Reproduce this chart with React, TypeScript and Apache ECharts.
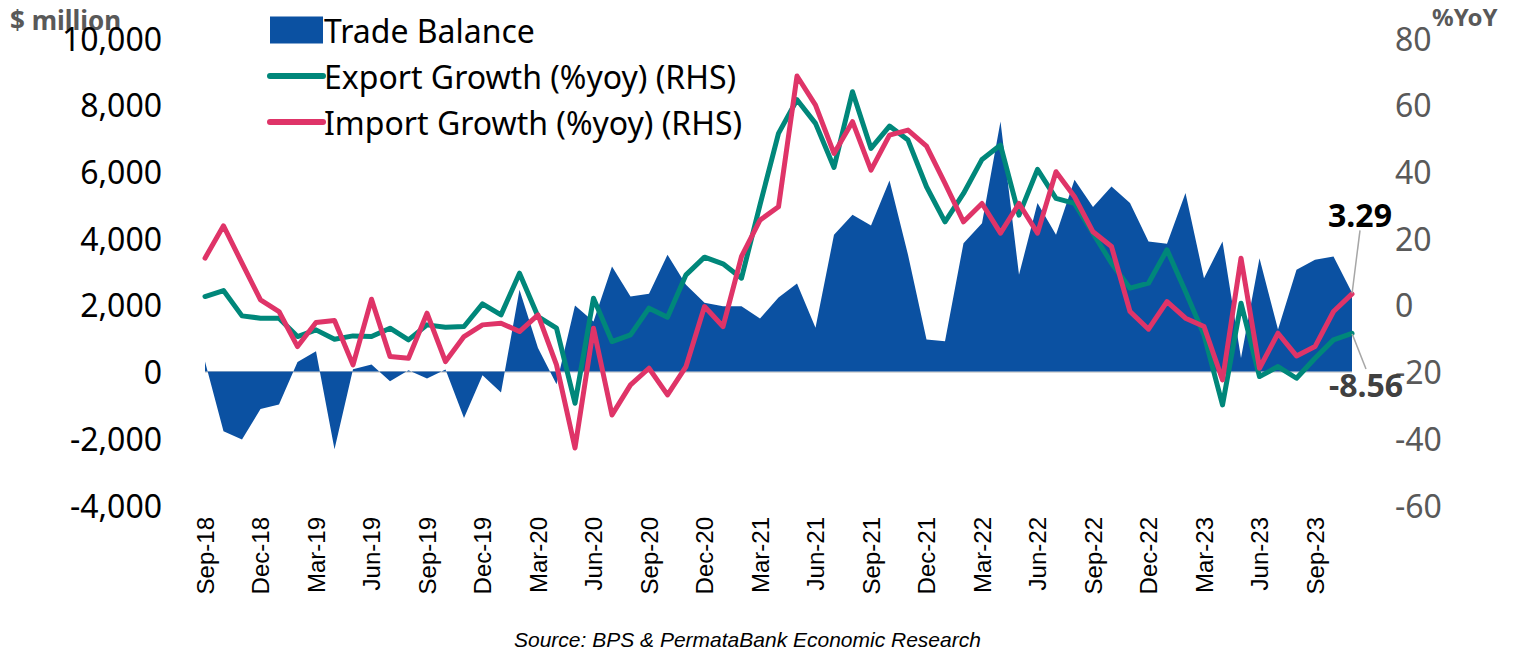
import React, { useEffect, useRef } from "react";
import * as echarts from "echarts";

const categories: string[] = [
  "Sep-18", "Oct-18", "Nov-18", "Dec-18",
  "Jan-19", "Feb-19", "Mar-19", "Apr-19", "May-19", "Jun-19", "Jul-19", "Aug-19", "Sep-19", "Oct-19", "Nov-19", "Dec-19",
  "Jan-20", "Feb-20", "Mar-20", "Apr-20", "May-20", "Jun-20", "Jul-20", "Aug-20", "Sep-20", "Oct-20", "Nov-20", "Dec-20",
  "Jan-21", "Feb-21", "Mar-21", "Apr-21", "May-21", "Jun-21", "Jul-21", "Aug-21", "Sep-21", "Oct-21", "Nov-21", "Dec-21",
  "Jan-22", "Feb-22", "Mar-22", "Apr-22", "May-22", "Jun-22", "Jul-22", "Aug-22", "Sep-22", "Oct-22", "Nov-22", "Dec-22",
  "Jan-23", "Feb-23", "Mar-23", "Apr-23", "May-23", "Jun-23", "Jul-23", "Aug-23", "Sep-23", "Oct-23", "Nov-23",
];

// Trade balance, $ million (LHS)
const tradeBalance: number[] = [
  300, -1790, -2040, -1120,
  -990, 290, 610, -2330, 70, 210, -290, 40, -210, 60, -1390, -110,
  -630, 2450, 710, -380, 1980, 1500, 3150, 2250, 2330, 3500, 2600, 2060,
  1960, 1960, 1590, 2220, 2640, 1310, 4100, 4700, 4380, 5730, 3500, 960,
  910, 3850, 4450, 7500, 2900, 5050, 4100, 5750, 4930, 5550, 5050, 3900,
  3830, 5350, 2800, 3900, 410, 3400, 1260, 3050, 3350, 3450, 2360,
];

// Export growth, %yoy (RHS)
const exportGrowth: number[] = [
  2.5, 4.3, -3.3, -4.0,
  -4.0, -9.5, -7.5, -10.3, -9.3, -9.5, -7.0, -10.5, -6.0, -6.7, -6.5, 0.3,
  -3.0, 9.5, -3.5, -7.0, -29.5, 2.0, -11.0, -9.0, -1.0, -3.7, 9.0, 14.3,
  12.3, 8.0, 30.0, 51.4, 61.5, 54.4, 41.2, 63.9, 46.9, 53.6, 49.4, 35.4,
  24.9, 33.4, 43.6, 47.9, 26.9, 40.6, 31.9, 30.4, 21.5, 12.5, 5.0, 6.5,
  16.5, 4.0, -9.0, -30.0, 0.5, -21.5, -18.5, -22.0, -16.0, -10.5, -8.56,
];

// Import growth, %yoy (RHS)
const importGrowth: number[] = [
  14.0, 23.7, 12.5, 1.5,
  -2.0, -12.5, -5.3, -4.7, -18.0, 1.7, -15.5, -16.0, -2.5, -17.0, -9.5, -6.0,
  -5.5, -8.0, -3.0, -18.0, -42.9, -7.0, -33.0, -24.0, -19.0, -27.0, -18.5, -0.5,
  -6.5, 14.5, 25.4, 29.4, 68.6, 59.9, 45.4, 54.9, 40.4, 50.9, 52.4, 47.6,
  36.4, 24.9, 30.4, 21.5, 30.4, 21.5, 39.9, 32.4, 21.9, 17.5, -2.0, -7.3,
  1.0, -4.0, -6.5, -22.5, 14.0, -19.0, -8.5, -15.3, -12.5, -2.0, 3.29,
];

const leftTicks = { min: -4000, max: 10000, interval: 2000 };
const rightTicks = { min: -60, max: 80, interval: 20 };

const BLUE = "#0B51A2";
const TEAL = "#00877A";
const RED = "#DF3468";
const GRAY = "#595959";

export default function App() {
  const ref = useRef<HTMLDivElement>(null);

  useEffect(() => {
    if (!ref.current) return;
    const chart = echarts.init(ref.current, null, { renderer: "svg" });
    const last = categories.length - 1;

    const lineData = (arr: number[], color: string, labelCfg: any) =>
      arr.map((v, i) =>
        i === last
          ? {
              value: v,
              symbol: "circle",
              symbolSize: 1,
              itemStyle: { color },
              label: { show: true, ...labelCfg },
              labelLine: { show: true, lineStyle: { color: "#A6A6A6", width: 1.5 } },
            }
          : v
      );

    const hiddenMarker = { color: "rgba(0,0,0,0)", borderWidth: 0, opacity: 0 };

    chart.setOption({
      animation: false,
      backgroundColor: "#ffffff",
      grid: {
        left: 205,
        right: 165,
        top: 38,
        bottom: 147,
        containLabel: false,
        outerBoundsMode: "none",
      },
      legend: {
        orient: "vertical",
        left: 262,
        top: 9,
        itemWidth: 53,
        itemHeight: 27,
        itemGap: 14,
        selectedMode: false,
        lineStyle: { width: 6, cap: "round" },
        textStyle: {
          fontFamily: "Noto Sans",
          fontSize: 32,
          color: "#000",
          lineHeight: 32,
          padding: [0, 0, 0, -4],
        },
        data: [
          { name: "Trade Balance", icon: "rect", itemStyle: { color: BLUE } },
          { name: "Export Growth (%yoy) (RHS)", itemStyle: hiddenMarker, lineStyle: { width: 6, color: TEAL, cap: "round" } },
          { name: "Import Growth (%yoy) (RHS)", itemStyle: hiddenMarker, lineStyle: { width: 6, color: RED, cap: "round" } },
        ],
      },
      xAxis: {
        type: "category",
        data: categories,
        boundaryGap: false,
        axisLine: { show: false },
        axisTick: { show: false },
        splitLine: { show: false },
        axisLabel: {
          interval: 2,
          rotate: 90,
          margin: 12,
          fontFamily: "Liberation Sans",
          fontSize: 24,
          color: "#000",
        },
      },
      yAxis: [
        {
          type: "value",
          min: leftTicks.min,
          max: leftTicks.max,
          interval: leftTicks.interval,
          axisLine: { show: false },
          axisTick: { show: false },
          splitLine: { show: false },
          axisLabel: {
            margin: 43,
            fontFamily: "Noto Sans",
            fontSize: 32,
            color: "#000",
            formatter: (v: number) => v.toLocaleString("en-US"),
          },
        },
        {
          type: "value",
          position: "right",
          min: rightTicks.min,
          max: rightTicks.max,
          interval: rightTicks.interval,
          axisLine: { show: false },
          axisTick: { show: false },
          splitLine: { show: false },
          axisLabel: {
            margin: 43,
            fontFamily: "Noto Sans",
            fontSize: 32,
            color: GRAY,
          },
        },
      ],
      series: [
        {
          name: "Trade Balance",
          type: "line",
          yAxisIndex: 0,
          data: tradeBalance,
          color: BLUE,
          symbol: "none",
          lineStyle: { width: 0 },
          areaStyle: { color: BLUE, opacity: 1 },
          z: 1,
          markLine: {
            silent: true,
            symbol: ["none", "none"],
            label: { show: false },
            lineStyle: { color: "#D9D9D9", width: 2, type: "solid" },
            data: [{ yAxis: 0 }],
            z: 0,
          },
        },
        {
          name: "Export Growth (%yoy) (RHS)",
          type: "line",
          yAxisIndex: 1,
          color: TEAL,
          symbol: "none",
          showAllSymbol: true,
          lineStyle: { width: 5, color: TEAL, cap: "round", join: "round" },
          data: lineData(exportGrowth, TEAL, {
            position: "bottom",
            formatter: "{c}",
            fontFamily: "Noto Sans",
            fontSize: 32,
            fontWeight: "bold",
            color: "#404040",
          }),
          labelLayout: { dx: 14, dy: 30 },
          z: 3,
        },
        {
          name: "Import Growth (%yoy) (RHS)",
          type: "line",
          yAxisIndex: 1,
          color: RED,
          symbol: "none",
          showAllSymbol: true,
          lineStyle: { width: 5, color: RED, cap: "round", join: "round" },
          data: lineData(importGrowth, RED, {
            position: "top",
            formatter: "{c}",
            fontFamily: "Noto Sans",
            fontSize: 32,
            fontWeight: "bold",
            color: "#000",
          }),
          labelLayout: { dx: 8, dy: -58 },
          z: 4,
        },
      ],
      graphic: [
        {
          type: "text",
          left: 10,
          top: 7,
          style: {
            text: "$ million",
            font: "bold 26px 'Noto Sans'",
            fill: GRAY,
          },
        },
        {
          type: "text",
          left: 1432,
          top: 4,
          style: {
            text: "%YoY",
            font: "bold 24px 'Noto Sans'",
            fill: GRAY,
          },
        },
        {
          type: "text",
          left: 514,
          top: 629,
          style: {
            text: "Source: BPS & PermataBank Economic Research",
            font: "italic 21px 'Liberation Sans'",
            fill: "#000",
          },
        },
      ],
    });

    return () => chart.dispose();
  }, []);

  return (
    <div
      ref={ref}
      style={{ position: "absolute", left: 0, top: 0, width: 1517, height: 652 }}
    />
  );
}
